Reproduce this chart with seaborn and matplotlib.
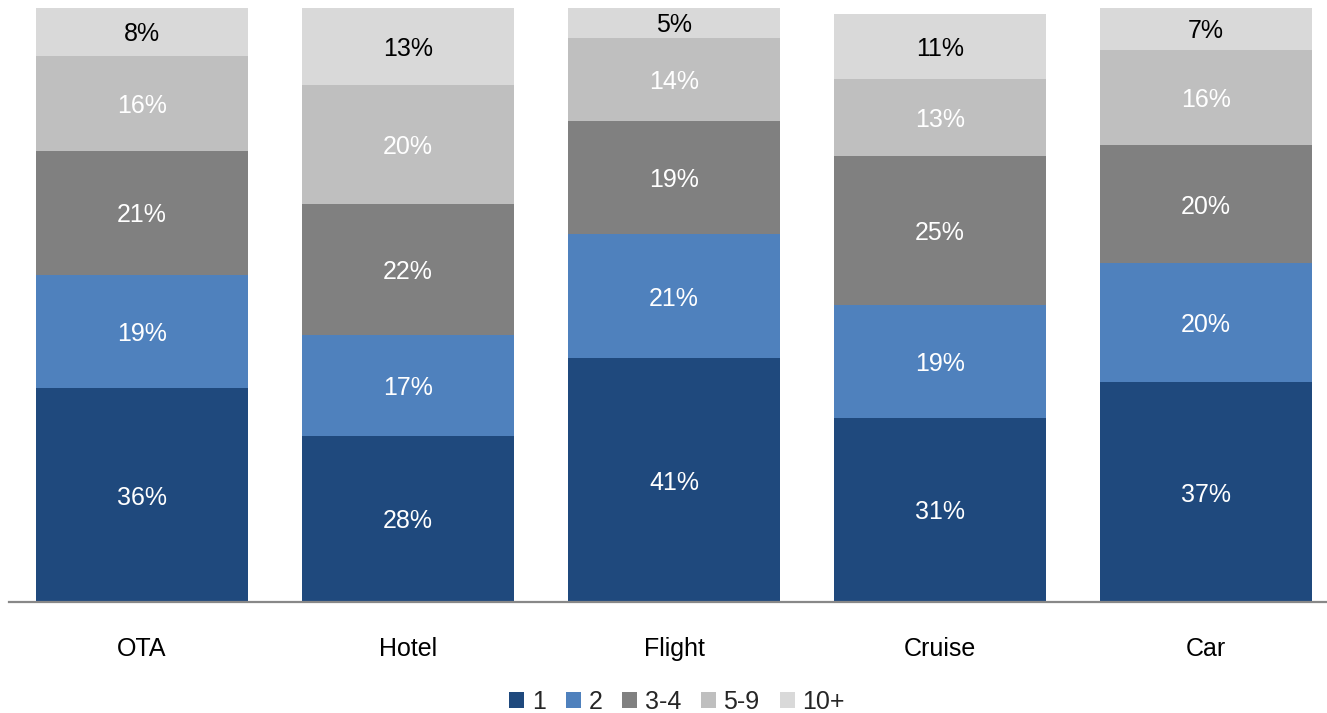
import numpy as np
import pandas as pd
import matplotlib
matplotlib.use("Agg")
import matplotlib.pyplot as plt
from matplotlib.patches import Patch
import seaborn as sns

categories = ["OTA", "Hotel", "Flight", "Cruise", "Car"]
series_names = ["1", "2", "3-4", "5-9", "10+"]
s_1 = [36, 28, 41, 31, 37]
s_2 = [19, 17, 21, 19, 20]
s_3_4 = [21, 22, 19, 25, 20]
s_5_9 = [16, 20, 14, 13, 16]
s_10p = [8, 13, 5, 11, 7]

colors = ["#1F497D", "#4F81BD", "#808080", "#BFBFBF", "#D9D9D9"]
text_colors = ["white", "white", "white", "white", "black"]

sns.set_theme(style="white")
plt.rcParams["font.family"] = ["Liberation Sans", "DejaVu Sans"]

values = np.array([s_1, s_2, s_3_4, s_5_9, s_10p], dtype=float)
tops = np.cumsum(values, axis=0)
bottoms = tops - values

fig = plt.figure(figsize=(13.27, 7.13), dpi=100)
ax = fig.add_axes([9 / 1327, 111 / 713, 1330 / 1327, 594 / 713])

# Stacked bars: draw the cumulative totals from the top series down
for i in reversed(range(len(series_names))):
    df = pd.DataFrame({"cat": categories, "val": tops[i]})
    sns.barplot(data=df, x="cat", y="val", color=colors[i], width=0.795,
                saturation=1, ax=ax, errorbar=None, linewidth=0)

for i in range(len(series_names)):
    for j, cat in enumerate(categories):
        ax.text(j, bottoms[i, j] + values[i, j] / 2, f"{int(values[i, j])}%",
                ha="center", va="center_baseline", fontsize=18, color=text_colors[i])

ax.set_xlim(-0.5, 4.5)
ax.set_ylim(0, 100)
ax.set_xlabel("")
ax.set_ylabel("")
ax.set_yticks([])
for side in ["top", "left", "right"]:
    ax.spines[side].set_visible(False)
ax.spines["bottom"].set_color("#888888")
ax.spines["bottom"].set_linewidth(1.6)
ax.tick_params(axis="x", length=0, pad=25, labelsize=18, labelcolor="black")

handles = [Patch(facecolor=c, edgecolor="none") for c in colors]
fig.legend(handles, series_names, loc="center", bbox_to_anchor=(677 / 1327, 1 - 702 / 713),
           ncol=5, frameon=False, fontsize=18, handlelength=0.6, handleheight=0.6,
           handletextpad=0.3, columnspacing=0.8, borderaxespad=0, borderpad=0)

fig.savefig("out.png", dpi=100, facecolor="white")
